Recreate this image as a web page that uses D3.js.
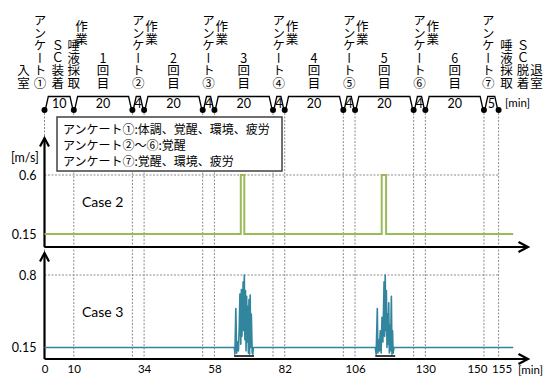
<!DOCTYPE html>
<html>
<head>
<meta charset="utf-8">
<script src="https://cdn.jsdelivr.net/npm/d3@7"></script>
<style>
	body { margin: 0; background: #fff; }
	text { font-family: "Noto Sans CJK JP", sans-serif; }
	.num { font-family: Lato, "Open Sans", sans-serif; }
</style>
</head>
<body>
<svg id="chart"></svg>
<script>
// time line of the protocol [min]
var boundaries = [0, 10, 30, 34, 54, 58, 78, 82, 102, 106, 126, 130, 150, 155];
var durations = ["10", "20", "4", "20", "4", "20", "4", "20", "4", "20", "4", "20", "5"];
var xTicks = [0, 10, 34, 58, 82, 106, 130, 150, 155];

// vertical labels above the time line: position [min], text
var stepLabels = [
	[-7.2, "入室"], [-1.5, "アンケート①"], [4.5, "ＳＣ装着"], [10, "唾液採取"],
	[32, "アンケート②"], [56, "アンケート③"], [80, "アンケート④"], [104, "アンケート⑤"], [128, "アンケート⑥"],
	[151.5, "アンケート⑦"], [157.7, "唾液採取"], [163.3, "ＳＣ脱着"], [167.9, "退室"]
];
var workLabels = [12.6, 36.5, 60.5, 84.5, 108.5, 132.5];
var roundLabels = [[20, "1回目"], [44, "2回目"], [68, "3回目"], [92, "4回目"], [116, "5回目"], [140, "6回目"]];

var legendLines = ["アンケート①:体調、覚醒、環境、疲労", "アンケート②～⑥:覚醒", "アンケート⑦:覚醒、環境、疲労"];

// Case 2 : air speed [m/s]
var case2Times  = [0, 67.0, 67.0, 68.2, 68.2, 115.1, 115.1, 116.6, 116.6, 160];
var case2Values = [0.15, 0.15, 0.6, 0.6, 0.15, 0.15, 0.6, 0.6, 0.15, 0.15];
var case2Ticks = [0.15, 0.6];

// Case 3 : air speed [m/s], two fluctuating periods
var case3Times = [0, 64.8, 65.0, 65.3, 65.6, 65.9, 66.2, 66.5, 66.7, 67.0, 67.2, 67.4, 67.6, 67.8, 68.0, 68.2, 68.4, 68.6, 68.8, 69.0, 69.2, 69.4, 69.6, 69.8, 70.0, 70.2, 70.4, 70.6, 70.9, 71.1, 71.3,
	112.9, 113.2, 113.6, 113.8, 114.0, 114.3, 114.6, 114.9, 115.2, 115.5, 115.9, 116.1, 116.3, 116.5, 116.7, 116.9, 117.1, 117.3, 117.5, 117.7, 117.9, 118.1, 118.4, 118.6, 118.8, 119.0, 119.3, 160];
var case3Values = [0.15, 0.15, 0.09, 0.50, 0.10, 0.20, 0.12, 0.35, 0.63, 0.18, 0.67, 0.25, 0.48, 0.74, 0.30, 0.80, 0.22, 0.66, 0.12, 0.61, 0.20, 0.52, 0.10, 0.58, 0.09, 0.62, 0.15, 0.45, 0.10, 0.09, 0.15,
	0.15, 0.09, 0.50, 0.10, 0.22, 0.12, 0.30, 0.10, 0.42, 0.20, 0.74, 0.25, 0.80, 0.30, 0.66, 0.15, 0.45, 0.18, 0.55, 0.10, 0.35, 0.12, 0.61, 0.09, 0.30, 0.10, 0.15, 0.15];
var case3Ticks = [0.15, 0.8];
var case3Marks = [[64.7, 71.5], [112.9, 119.7]];

var width = 545, height = 376;
var svg = d3.select("#chart").attr("width", width).attr("height", height);

var x = d3.scaleLinear().domain([0, 155]).range([44.5, 498.6]);
var lineY = 110, lineTop = 96.5;

var plot2 = { top: 138, bottom: 247, y: d3.scaleLinear().domain([0.15, 0.6]).range([234, 175]) };
var plot3 = { top: 253, bottom: 359, y: d3.scaleLinear().domain([0.15, 0.8]).range([347.5, 275]) };

// dotted vertical grid
svg.append("g").selectAll("line").data(boundaries).enter().append("line")
	.attr("x1", function(d) { return x(d); }).attr("x2", function(d) { return x(d); })
	.attr("y1", lineY + 3).attr("y2", plot3.bottom)
	.attr("stroke", "#8c8c8c").attr("stroke-width", 1).attr("stroke-dasharray", "2,1.5");

// dotted horizontal grid at the upper tick of each plot
[[plot2, 0.6], [plot3, 0.8]].forEach(function(p) {
	svg.append("line")
		.attr("x1", x(0)).attr("x2", x(155))
		.attr("y1", p[0].y(p[1])).attr("y2", p[0].y(p[1]))
		.attr("stroke", "#8c8c8c").attr("stroke-width", 1).attr("stroke-dasharray", "2,1.5");
});

// time line segments
var slant = 3;
var segs = d3.range(durations.length).map(function(i) { return { a: boundaries[i], b: boundaries[i + 1], label: durations[i] }; });
svg.append("g").selectAll("path").data(segs).enter().append("path")
	.attr("d", function(d) {
		var x0 = x(d.a) + 0.8, x1 = x(d.b) - 0.8;
		return "M" + x0 + "," + lineY + "L" + (x0 + slant) + "," + lineTop + "L" + (x1 - slant) + "," + lineTop + "L" + x1 + "," + lineY;
	})
	.attr("fill", "none").attr("stroke", "#000").attr("stroke-width", 1.3);
svg.append("g").selectAll("text").data(segs).enter().append("text")
	.attr("class", "num")
	.attr("x", function(d) { return x((d.a + d.b) / 2); })
	.attr("y", lineY - 2)
	.attr("text-anchor", "middle").attr("font-size", 12.5)
	.text(function(d) { return d.label; });
svg.append("g").selectAll("circle").data(boundaries).enter().append("circle")
	.attr("cx", function(d) { return x(d); }).attr("cy", lineY).attr("r", 3).attr("fill", "#000");
svg.append("text").attr("class", "num").attr("x", 505).attr("y", lineY - 3)
	.attr("font-size", 11.5).text("[min]");

// vertical labels
function vtext(t, yBottom, str) {
	svg.append("text")
		.attr("x", x(t)).attr("y", yBottom)
		.style("writing-mode", "vertical-rl").style("text-orientation", "upright")
		.attr("text-anchor", "end").attr("font-size", 12.5)
		.text(str);
}
stepLabels.forEach(function(d) { vtext(d[0], 89, d[1]); });
workLabels.forEach(function(d) { vtext(d, 45, "作業"); });
roundLabels.forEach(function(d) { vtext(d[0], 89, d[1]); });

// axes with arrows
function arrowAxes(p) {
	var g = svg.append("g").attr("fill", "none").attr("stroke", "#000").attr("stroke-width", 2.2);
	g.append("path").attr("d", "M" + x(0) + "," + p.bottom + "L" + x(0) + "," + p.top);
	g.append("path").attr("d", "M" + (x(0) - 4.5) + "," + (p.top + 8.5) + "L" + x(0) + "," + p.top + "L" + (x(0) + 4.5) + "," + (p.top + 8.5));
	g.append("path").attr("d", "M" + x(0) + "," + p.bottom + "L" + 528 + "," + p.bottom);
	g.append("path").attr("d", "M" + 518.5 + "," + (p.bottom - 5) + "L" + 528 + "," + p.bottom + "L" + 518.5 + "," + (p.bottom + 5));
}

function yAxis(p, ticks) {
	var ax = svg.append("g").attr("transform", "translate(" + (x(0) - 4) + ",0)")
		.call(d3.axisLeft(p.y).tickValues(ticks).tickSize(0).tickPadding(4).tickFormat(d3.format("")));
	ax.select(".domain").remove();
	ax.selectAll("text").attr("class", "num").attr("font-size", 12.5).attr("fill", "#000");
}

var line = d3.line().x(function(d) { return x(d[0]); });

// Case 2
arrowAxes(plot2);
yAxis(plot2, case2Ticks);
svg.append("path")
	.datum(d3.zip(case2Times, case2Values))
	.attr("d", line.y(function(d) { return plot2.y(d[1]); }))
	.attr("fill", "none").attr("stroke", "#9bbb59").attr("stroke-width", 2);
svg.append("text").attr("class", "num").attr("x", 82).attr("y", 207).attr("font-size", 14).text("Case 2");
svg.append("text").attr("class", "num").attr("x", 11).attr("y", 162).attr("font-size", 12.5).text("[m/s]");

// Case 3
arrowAxes(plot3);
yAxis(plot3, case3Ticks);
svg.append("path")
	.datum(d3.zip(case3Times, case3Values))
	.attr("d", line.y(function(d) { return plot3.y(d[1]); }))
	.attr("fill", "none").attr("stroke", "#31859c").attr("stroke-width", 1.6).attr("stroke-linejoin", "round");
svg.append("g").selectAll("line").data(case3Marks).enter().append("line")
	.attr("x1", function(d) { return x(d[0]); }).attr("x2", function(d) { return x(d[1]); })
	.attr("y1", plot3.y(0.15) + 8.5).attr("y2", plot3.y(0.15) + 8.5)
	.attr("stroke", "#000").attr("stroke-width", 1.5);
svg.append("text").attr("class", "num").attr("x", 82).attr("y", 317).attr("font-size", 14).text("Case 3");

// x axis labels (150 and 155 pushed apart like in the original)
var xAx = svg.append("g").attr("transform", "translate(0," + (plot3.bottom + 2) + ")")
	.call(d3.axisBottom(x).tickValues(xTicks).tickSize(0).tickPadding(4));
xAx.select(".domain").remove();
xAx.selectAll("text").attr("class", "num").attr("font-size", 11.5).attr("fill", "#000")
	.attr("dx", function(d) { return d == 150 ? -7 : (d == 155 ? 3 : 0); });
svg.append("text").attr("class", "num").attr("x", 518).attr("y", 374).attr("font-size", 11.5).text("[min]");

// legend
svg.append("rect").attr("x", 57).attr("y", 117).attr("width", 225).attr("height", 54)
	.attr("fill", "#fff").attr("stroke", "#404040").attr("stroke-width", 1.5);
svg.append("g").selectAll("text").data(legendLines).enter().append("text")
	.attr("x", 63).attr("y", function(d, i) { return 134 + i * 16; })
	.attr("font-size", 12).text(function(d) { return d; });
</script>
</body>
</html>
